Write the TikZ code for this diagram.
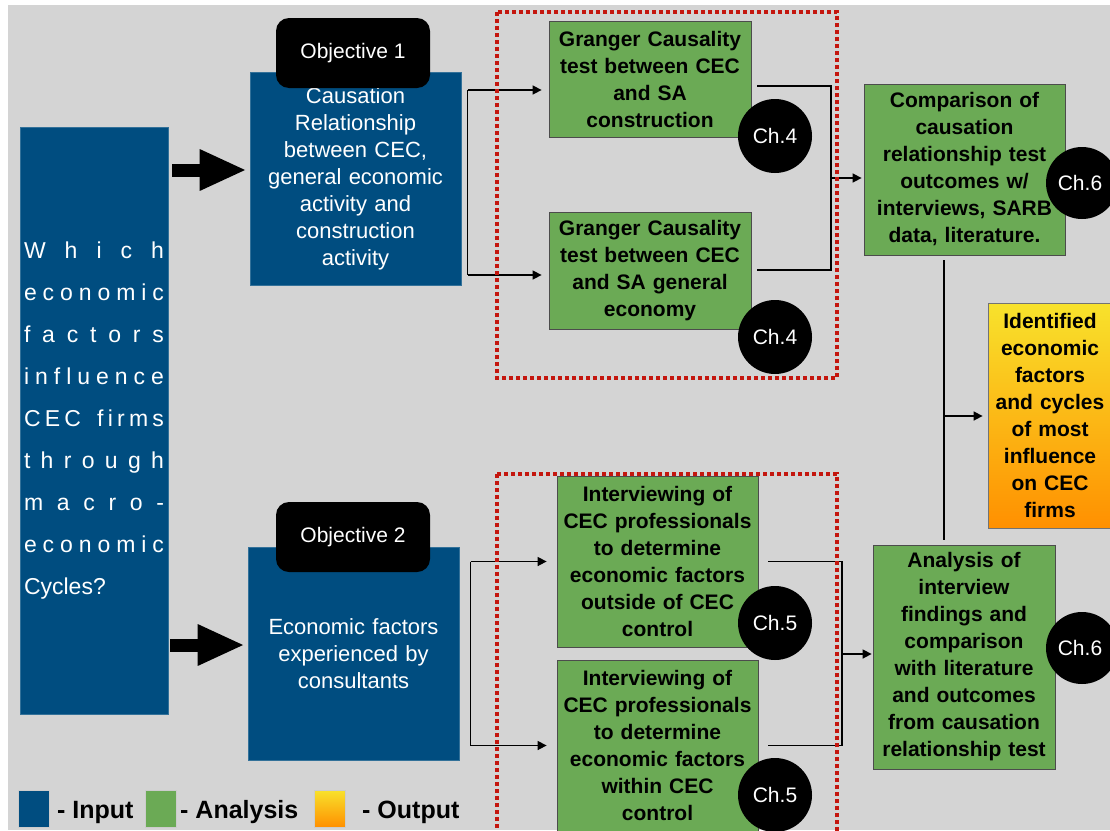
\documentclass[tikz,border=0pt]{standalone}
\usepackage{fontspec}
\setmainfont{Liberation Sans}
\usetikzlibrary{arrows.meta,calc}
\definecolor{bgray}{HTML}{D4D4D4}
\definecolor{inblue}{HTML}{004D80}
\definecolor{angreen}{HTML}{6BAA55}
\definecolor{reddot}{HTML}{C4160E}
\definecolor{outyel}{HTML}{F8E22C}
\definecolor{outora}{HTML}{FF9000}
\newcommand{\qline}[1]{\makebox[140pt][s]{#1}}
\begin{document}
\begin{tikzpicture}[x=1pt,y=-1pt,
  greenbox/.style={draw=black!70, line width=0.8pt, fill=angreen, inner sep=0pt, align=center, text=black, font=\fontsize{21}{27}\selectfont\bfseries},
  bluebox/.style={draw=inblue!80!white, line width=0.6pt, fill=inblue, inner sep=0pt, align=center, text=white, font=\fontsize{22}{27}\selectfont},
  objbox/.style={fill=black, rounded corners=13pt, minimum width=154pt, minimum height=70pt, inner sep=0pt, text=white, font=\fontsize{21}{25}\selectfont},
  chap/.style={circle, fill=black, minimum size=74pt, inner sep=0pt, text=white, font=\fontsize{21}{25}\selectfont},
  conn/.style={line width=1.5pt, black},
  arr/.style={conn, -{Triangle[length=9pt,width=9pt]}},
  bigarr/.style={line width=13pt, -{Triangle[length=47pt,width=38pt]}},
  redbox/.style={draw=reddot, line width=4pt, dash pattern=on 4pt off 3pt},
  legtext/.style={anchor=base west, inner sep=0pt, font=\fontsize{25}{30}\selectfont\bfseries},
  legsq/.style={minimum width=31pt, minimum height=37pt, inner sep=0pt, draw=white!60!gray, line width=0.4pt},
]
\useasboundingbox (0,0) rectangle (1110,830);
\clip (0,0) rectangle (1110,830);
\fill[white] (0,0) rectangle (1110,830);
\fill[bgray] (8,5) rectangle (1110,830);

% question box
\node[fill=inblue, draw=inblue!80!white, line width=0.6pt, minimum width=148pt, minimum height=587pt, inner sep=0pt, text width=140pt, align=left, text=white, font=\fontsize{23}{42}\selectfont] (Q) at (94,421)
{\qline{W\hfill h\hfill i\hfill c\hfill h}\\
 \qline{e\hfill c\hfill o\hfill n\hfill o\hfill m\hfill i\hfill c}\\
 \qline{f\hfill a\hfill c\hfill t\hfill o\hfill r\hfill s}\\
 \qline{i\hfill n\hfill f\hfill l\hfill u\hfill e\hfill n\hfill c\hfill e}\\
 \qline{C\hfill E\hfill C\hfill\ \hfill f\hfill i\hfill r\hfill m\hfill s}\\
 \qline{t\hfill h\hfill r\hfill o\hfill u\hfill g\hfill h}\\
 \qline{m\hfill a\hfill c\hfill r\hfill o\hfill -}\\
 \qline{e\hfill c\hfill o\hfill n\hfill o\hfill m\hfill i\hfill c}\\
 Cycles?};

% objective boxes
\node[bluebox, minimum width=211pt, minimum height=213pt, text width=205pt] (B1) at (355.5,178.5)
{Causation\\Relationship\\between CEC,\\general economic\\activity and\\construction\\activity};
\node[objbox] (O1) at (353,53) {Objective 1};
\node[bluebox, minimum width=211pt, minimum height=213pt, text width=205pt] (B2) at (353.5,653.5)
{Economic factors\\experienced by\\consultants};
\node[objbox] (O2) at (353,537) {Objective 2};

% big arrows
\coordinate (ba1) at (172,170);
\coordinate (ba2) at (170,645);
\draw[bigarr, shorten >=3pt] (ba1) -- (ba1 -| B1.west);
\draw[bigarr, shorten >=3pt] (ba2) -- (ba2 -| B2.west);

% green analysis boxes
\node[greenbox, minimum width=202pt, minimum height=116pt, text width=198pt] (G1) at (650,79)
{Granger Causality\\test between CEC\\and SA\\construction};
\node[greenbox, minimum width=202pt, minimum height=117pt, text width=198pt] (G2) at (650,270.5)
{Granger Causality\\test between CEC\\and SA general\\economy};
\node[greenbox, minimum width=201pt, minimum height=171pt, text width=198pt] (I1) at (657.5,561.5)
{Interviewing of\\CEC professionals\\to determine\\economic factors\\outside of CEC\\control};
\node[greenbox, minimum width=201pt, minimum height=171pt, text width=198pt] (I2) at (657.5,745.5)
{Interviewing of\\CEC professionals\\to determine\\economic factors\\within CEC\\control};
\node[greenbox, minimum width=201pt, minimum height=171pt, text width=198pt] (C6) at (964.5,169.5)
{Comparison of\\causation\\relationship test\\outcomes w/\\interviews, SARB\\data, literature.};
\node[greenbox, minimum width=182pt, minimum height=224pt, text width=180pt] (A6) at (964,657)
{Analysis of\\interview\\findings and\\comparison\\with literature\\and outcomes\\from causation\\relationship test};
\node[draw=black!55, line width=0.8pt, top color=outyel, bottom color=outora, minimum width=124pt, minimum height=225pt, text width=120pt, inner sep=0pt, align=center, text=black, font=\fontsize{21}{27}\selectfont\bfseries] (Out) at (1050,415.5)
{Identified\\economic\\factors\\and cycles\\of most\\influence\\on CEC\\firms};

% connectors top
\draw[conn] ([xshift=-81pt,yshift=-11pt]G1.west) -- ([xshift=-81pt,yshift=-4.5pt]G2.west);
\draw[arr, shorten >=7pt] ([xshift=-81pt,yshift=-11pt]G1.west) -- ([yshift=-11pt]G1.west);
\draw[arr, shorten >=7pt] ([xshift=-81pt,yshift=-4.5pt]G2.west) -- ([yshift=-4.5pt]G2.west);
\coordinate (r1) at (831,178);
\draw[conn] ([xshift=6pt,yshift=-7pt]G1.east) -| (r1) |- ([xshift=6pt,yshift=0.5pt]G2.east);
\draw[arr, shorten >=2pt] (r1) -- (r1 -| C6.west);

% connectors bottom
\draw[conn] ([xshift=-86pt]I1.west) -- ([xshift=-86pt]I2.west);
\draw[arr, shorten >=10pt] ([xshift=-86pt]I1.west) -- (I1.west);
\draw[arr, shorten >=10pt] ([xshift=-86pt]I2.west) -- (I2.west);
\coordinate (r2) at (842,654);
\draw[conn] ([xshift=10pt]I1.east) -| (r2) |- ([xshift=10pt]I2.east);
\draw[arr, shorten >=1pt] (r2) -- (r2 -| A6.west);

% middle vertical and output arrow
\draw[conn] ([xshift=-20.5pt,yshift=-5pt]C6.south) -- ([xshift=-20pt,yshift=5pt]A6.north);
\coordinate (m1) at (944,416);
\draw[arr, shorten >=5pt] (m1) -- (m1 -| Out.west);

% chapter circles
\node[chap] (ch41) at (775,136) {Ch.4};
\node[chap] (ch42) at (775,337) {Ch.4};
\node[chap] (ch51) at (775,623) {Ch.5};
\node[chap] (ch52) at (775,795) {Ch.5};
\node[chap, minimum size=72pt] (ch61) at (1082,183) {\hspace*{-4pt}Ch.6};
\node[chap, minimum size=72pt] (ch62) at (1082,648) {\hspace*{-4pt}Ch.6};

% red dotted frames
\draw[redbox] (497,12) rectangle (837,378);
\draw[redbox] (497,474) rectangle (837,850);

% legend
\node[legsq, fill=inblue] (legin) at (33.5,808.5) {};
\node[legtext] (legint) at (57,818) {- Input};
\node[legsq, fill=angreen] (legan) at (160.5,808.5) {};
\node[legtext] (legant) at (180,818) {- Analysis};
\node[legsq, top color=outyel, bottom color=outora] (legout) at (330,808.5) {};
\node[legtext] (legoutt) at (362,818) {- Output};
\end{tikzpicture}
\end{document}
